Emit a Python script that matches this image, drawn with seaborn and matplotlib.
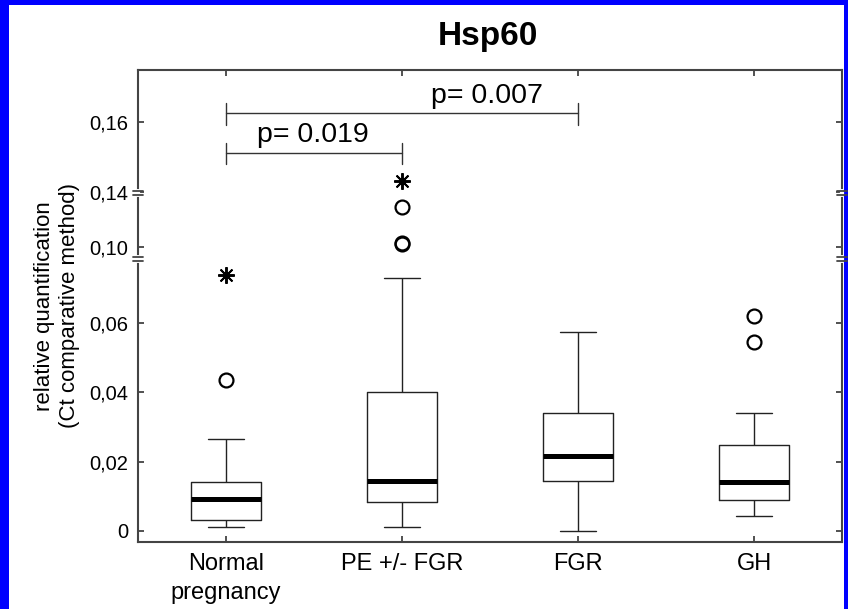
import numpy as np
import pandas as pd
import matplotlib
matplotlib.use("Agg")
import matplotlib.pyplot as plt
from matplotlib.patches import Rectangle
import seaborn as sns

# Five-number summaries
groups = ["Normal\npregnancy", "PE +/- FGR", "FGR", "GH"]
whisker_low = [0.0012, 0.0012, 0.0, 0.0043]
q1 = [0.0032, 0.0085, 0.0144, 0.0089]
median = [0.0093, 0.0144, 0.0216, 0.0142]
q3 = [0.0141, 0.0400, 0.0341, 0.0247]
whisker_high = [0.0266, 0.0729, 0.0574, 0.0341]

# outliers (circles) and extreme values (stars)
circle_group = ["Normal\npregnancy", "PE +/- FGR", "PE +/- FGR", "PE +/- FGR", "GH", "GH"]
circle_value = [0.0436, 0.1025, 0.1031, 0.1289, 0.0545, 0.0620]
star_group = ["Normal\npregnancy", "PE +/- FGR"]
star_value = [0.0739, 0.1432]

y_ticks = [0, 0.02, 0.04, 0.06, 0.10, 0.14, 0.16]
y_tick_labels = ["0", "0,02", "0,04", "0,06", "0,10", "0,14", "0,16"]

# seven points per group reproduce the quartiles exactly (linear percentiles)
rows = []
for g, lo, a, m, b, hi in zip(groups, whisker_low, q1, median, q3, whisker_high):
    for v in [lo, a, a, m, b, b, hi]:
        rows.append((g, v))
df = pd.DataFrame(rows, columns=["group", "value"])

# broken y axis: piecewise linear scale (lower, compressed middle, upper)
scale_data = np.array([-1.0, 0.078, 0.0913, 0.14, 1.0])
scale_pos = np.array([-3465.0, 270.3, 272.0, 339.0, 339.0 + 0.86 * 3500])


def forward(v):
    return np.interp(v, scale_data, scale_pos)


def inverse(p):
    return np.interp(p, scale_pos, scale_data)


sns.set_style("ticks")
plt.rcParams["font.family"] = ["Liberation Sans", "DejaVu Sans"]
plt.rcParams["text.color"] = "black"
plt.rcParams["axes.labelcolor"] = "black"
plt.rcParams["xtick.color"] = "black"
plt.rcParams["ytick.color"] = "black"

fig = plt.figure(figsize=(8.48, 6.09), dpi=100)
fig.patch.set_facecolor("#0000ff")
fig.add_artist(Rectangle((9 / 848, 0), 835 / 848, 604 / 609, transform=fig.transFigure,
                         facecolor="white", edgecolor="none", zorder=0))

ax = fig.add_axes([138 / 848, 67 / 609, 704 / 848, 472 / 609])
ax.set_facecolor("white")

sns.boxplot(data=df, x="group", y="value", order=groups, ax=ax, width=0.4,
            whis=(0, 100), fill=False, color="#222222", linewidth=1.0,
            showfliers=False, medianprops=dict(color="black", linewidth=3.6))

xpos = {g: i for i, g in enumerate(groups)}
ax.plot([xpos[g] for g in circle_group], circle_value, linestyle="none", marker="o",
        markersize=10, markerfacecolor="none", markeredgecolor="black", markeredgewidth=1.6)
ax.plot([xpos[g] for g in star_group], star_value, linestyle="none", marker=(8, 2, 0),
        markersize=12, color="black", markeredgewidth=1.4)

ax.set_yscale("function", functions=(forward, inverse))
ax.set_ylim(inverse(-11), inverse(461))
ax.set_xlim(-0.5, 3.5)
ax.set_yticks(y_ticks)
ax.set_yticklabels(y_tick_labels, fontsize=14.5)
ax.set_xticks(range(len(groups)))
ax.set_xticklabels(groups, fontsize=17, linespacing=1.4)
ax.set_xlabel("")
ax.set_ylabel("relative quantification\n(Ct comparative method)", fontsize=16, labelpad=7)

ax.tick_params(direction="in", length=4, width=1.2, color="#333333", top=True, right=True)
ax.tick_params(axis="y", pad=7)
ax.tick_params(axis="x", pad=8)
for s in ax.spines.values():
    s.set_visible(True)
    s.set_color("#444444")
    s.set_linewidth(1.5)

# break marks on both side spines
ytr = ax.get_yaxis_transform()
for p in [272, 338]:
    ylo, yhi = inverse(p - 2.2), inverse(p + 2.2)
    for x0 in (0, 1):
        ax.plot([x0, x0], [ylo, yhi], color="white", lw=3, clip_on=False, transform=ytr, zorder=5)
        for yy in (ylo, yhi):
            ax.plot([x0 - 0.007, x0 + 0.007], [yy, yy], color="#444444", lw=1.3,
                    clip_on=False, transform=ytr, zorder=6)

# significance brackets
def bracket(x1, x2, y, lo, hi, label, tx, ty):
    ax.plot([x1, x2], [y, y], color="#333333", lw=1.0)
    for xx in (x1, x2):
        ax.plot([xx, xx], [lo, hi], color="#333333", lw=1.0)
    ax.text(tx, ty, label, ha="center", va="baseline", fontsize=20.5)


bracket(0, 1, inverse(378), inverse(367), inverse(388), "p= 0.019", 0.494, inverse(388.5))
bracket(0, 2, inverse(418), inverse(406), inverse(428), "p= 0.007", 1.483, inverse(428))

fig.text(488 / 848, 1 - 37 / 609, "Hsp60", ha="center", va="center", fontsize=24,
         fontweight="bold")

fig.savefig("out.png", dpi=100)
